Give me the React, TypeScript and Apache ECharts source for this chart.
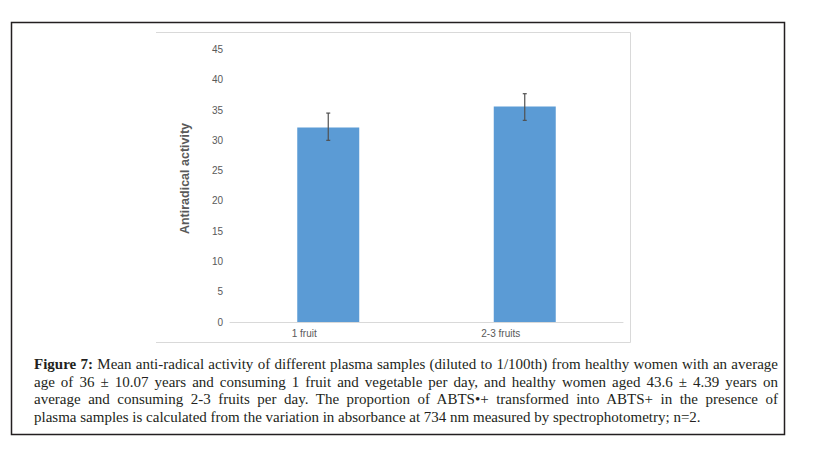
import React, { useEffect, useRef } from "react";
import * as echarts from "echarts";

const categories = ["1 fruit", "2-3 fruits"];
const meanValues = [32.1, 35.6];
const errorLow = [30.0, 33.3];
const errorHigh = [34.5, 37.7];
const yTicks = { min: 0, max: 45, interval: 5 };
const yAxisTitle = "Antiradical activity";
const captionLead = "Figure 7:";
const captionLines = [
  " Mean anti-radical activity of different plasma samples (diluted to 1/100th) from healthy women with an average",
  "age of 36 ± 10.07 years and consuming 1 fruit and vegetable per day, and healthy women aged 43.6 ± 4.39 years on",
  "average and consuming 2-3 fruits per day. The proportion of ABTS•+ transformed into ABTS+ in the presence of",
  "plasma samples is calculated from the variation in absorbance at 734 nm measured by spectrophotometry; n=2.",
];

export default function App() {
  const ref = useRef<HTMLDivElement>(null);

  useEffect(() => {
    if (!ref.current) return;
    const chart = echarts.init(ref.current, undefined, { renderer: "svg" });
    const errData = categories.map((_, i) => [i, errorLow[i], errorHigh[i]]);
    chart.setOption({
      animation: false,
      backgroundColor: "#ffffff",
      grid: { left: 230, right: 202, top: 49.5, bottom: 128, containLabel: false },
      xAxis: {
        type: "category",
        data: categories,
        axisLine: { lineStyle: { color: "#d9d9d9", width: 1 } },
        axisTick: { show: false },
        axisLabel: {
          color: "#595959",
          fontFamily: "Liberation Sans, Arial, sans-serif",
          fontSize: 10,
          margin: 6,
          padding: [0, 48, 0, 0],
        },
      },
      yAxis: {
        type: "value",
        min: yTicks.min,
        max: yTicks.max,
        interval: yTicks.interval,
        axisLine: { show: false },
        axisTick: { show: false },
        splitLine: { show: false },
        axisLabel: {
          color: "#595959",
          fontFamily: "Liberation Sans, Arial, sans-serif",
          fontSize: 10,
          margin: 7,
        },
      },
      series: [
        {
          type: "bar",
          data: meanValues,
          barWidth: 62,
          itemStyle: { color: "#5b9bd5" },
        },
        {
          type: "custom",
          data: errData,
          z: 5,
          renderItem: (params: any, api: any) => {
            const x = api.value(0);
            const lo = api.coord([x, api.value(1)]);
            const hi = api.coord([x, api.value(2)]);
            const w = 2;
            const style = { stroke: "#505050", lineWidth: 1.2 };
            return {
              type: "group",
              children: [
                { type: "line", shape: { x1: hi[0], y1: hi[1], x2: lo[0], y2: lo[1] }, style },
                { type: "line", shape: { x1: hi[0] - w, y1: hi[1], x2: hi[0] + w, y2: hi[1] }, style },
                { type: "line", shape: { x1: lo[0] - w, y1: lo[1], x2: lo[0] + w, y2: lo[1] }, style },
              ],
            };
          },
        },
      ],
      graphic: [
        {
          type: "polyline",
          shape: { points: [[156, 32.5], [630.5, 32.5], [630.5, 342.5], [156, 342.5]] },
          style: { stroke: "#d9d9d9", lineWidth: 1, fill: null },
          silent: true,
        },
        {
          type: "rect",
          shape: { x: 11.5, y: 22.5, width: 773, height: 412 },
          style: { stroke: "#231f20", lineWidth: 1.5, fill: null },
          silent: true,
        },
        {
          type: "text",
          x: 185,
          y: 178.5,
          rotation: Math.PI / 2,
          style: {
            text: yAxisTitle,
            fill: "#595959",
            font: "bold 12.5px 'Liberation Sans', Arial, sans-serif",
            align: "center",
            verticalAlign: "middle",
          },
          silent: true,
        },
      ],
    });
    return () => chart.dispose();
  }, []);

  const lineStyle: React.CSSProperties = {
    whiteSpace: "nowrap",
    textAlign: "justify",
    textAlignLast: "justify" as any,
    height: 17.6,
  };

  return (
    <div style={{ position: "fixed", left: 0, top: 0, width: 825, height: 450, background: "#fff" }}>
      <div ref={ref} style={{ position: "absolute", left: 0, top: 0, width: 825, height: 450 }} />
      <div
        style={{
          position: "absolute",
          left: 34,
          top: 356.3,
          width: 744,
          fontFamily: "'Liberation Serif', 'Times New Roman', serif",
          fontSize: 15,
          lineHeight: "17.6px",
          color: "#231f20",
        }}
      >
        {captionLines.map((ln, i) => (
          <div
            key={i}
            style={i === captionLines.length - 1 ? { whiteSpace: "nowrap", height: 17.6 } : lineStyle}
          >
            {i === 0 ? <b>{captionLead}</b> : null}
            {ln}
          </div>
        ))}
      </div>
    </div>
  );
}
